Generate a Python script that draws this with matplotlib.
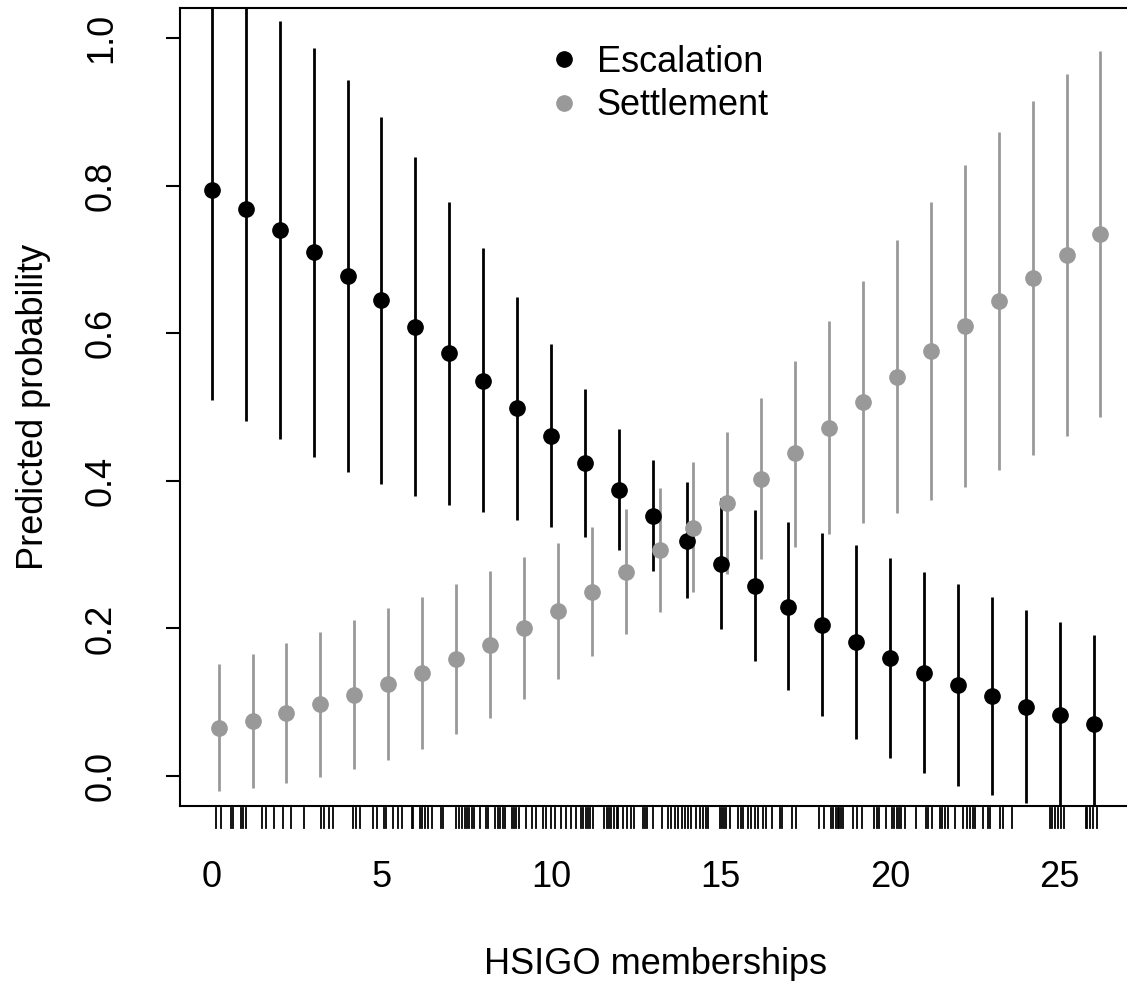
import matplotlib
matplotlib.use("Agg")
import matplotlib.pyplot as plt
import matplotlib.transforms as mtransforms
import numpy as np

plt.rcParams['font.family'] = ['Liberation Sans', 'DejaVu Sans']

# HSIGO memberships
members = list(range(27))

# escalation: estimate and 95% interval
esc_est = [0.794, 0.768, 0.740, 0.710, 0.678, 0.645, 0.609, 0.573, 0.535, 0.499,
           0.461, 0.424, 0.388, 0.352, 0.318, 0.287, 0.258, 0.229, 0.204, 0.181,
           0.160, 0.140, 0.123, 0.108, 0.094, 0.082, 0.071]
esc_lo = [0.509, 0.481, 0.457, 0.432, 0.412, 0.396, 0.379, 0.367, 0.358, 0.347,
          0.337, 0.324, 0.306, 0.278, 0.241, 0.199, 0.156, 0.117, 0.081, 0.050,
          0.025, 0.004, -0.013, -0.026, -0.036, -0.044, -0.049]
esc_hi = [1.079, 1.055, 1.023, 0.987, 0.943, 0.893, 0.839, 0.778, 0.715, 0.649,
          0.585, 0.524, 0.470, 0.428, 0.398, 0.377, 0.360, 0.344, 0.329, 0.313,
          0.295, 0.276, 0.260, 0.243, 0.225, 0.208, 0.191]

# settlement: estimate and 95% interval
set_est = [0.065, 0.074, 0.085, 0.097, 0.110, 0.124, 0.140, 0.158, 0.178, 0.200,
           0.224, 0.249, 0.277, 0.306, 0.336, 0.370, 0.402, 0.437, 0.472, 0.507,
           0.541, 0.576, 0.610, 0.644, 0.675, 0.706, 0.734]
set_lo = [-0.020, -0.016, -0.009, -0.002, 0.009, 0.021, 0.037, 0.057, 0.079, 0.104,
          0.132, 0.162, 0.192, 0.222, 0.249, 0.274, 0.294, 0.310, 0.328, 0.343,
          0.356, 0.374, 0.392, 0.415, 0.435, 0.461, 0.486]
set_hi = [0.152, 0.165, 0.180, 0.195, 0.211, 0.227, 0.243, 0.260, 0.278, 0.297,
          0.316, 0.337, 0.362, 0.390, 0.425, 0.466, 0.512, 0.563, 0.617, 0.671,
          0.726, 0.778, 0.828, 0.873, 0.915, 0.951, 0.982]

# observed values shown as rug
rug = [0.11, 0.26, 0.56, 0.61, 0.85, 0.92, 1.02, 1.48, 1.59, 1.84, 2.09, 2.33, 2.72,
       3.23, 3.30, 3.45, 3.57, 4.17, 4.25, 4.36, 4.76, 4.86, 5.08, 5.13, 5.35, 5.49,
       5.61, 5.89, 5.93, 6.13, 6.19, 6.28, 6.38, 6.48, 6.77, 6.82, 7.21, 7.29, 7.36,
       7.46, 7.53, 7.59, 7.66, 7.72, 7.90, 8.08, 8.15, 8.34, 8.44, 8.49, 8.57, 8.64,
       8.84, 8.90, 8.98, 9.06, 9.26, 9.43, 9.57, 9.77, 9.85, 10.01, 10.11, 10.29,
       10.44, 10.60, 10.73, 10.87, 10.95, 11.03, 11.09, 11.16, 11.24, 11.56, 11.64,
       11.71, 11.78, 11.85, 11.93, 11.98, 12.11, 12.24, 12.37, 12.45, 12.70, 12.77,
       12.83, 13.01, 13.26, 13.45, 13.55, 13.65, 13.75, 13.85, 13.94, 14.04, 14.14,
       14.27, 14.39, 14.48, 14.56, 14.63, 14.98, 15.04, 15.11, 15.17, 15.27, 15.52,
       15.59, 15.66, 15.81, 15.91, 16.01, 16.11, 16.25, 16.35, 16.50, 16.75, 16.82,
       17.09, 17.22, 17.90, 18.04, 18.24, 18.32, 18.40, 18.45, 18.49, 18.56, 18.61,
       18.91, 19.01, 19.17, 19.52, 19.60, 19.67, 19.89, 20.04, 20.11, 20.19, 20.26,
       20.33, 20.43, 20.75, 21.05, 21.12, 21.22, 21.46, 21.54, 21.61, 21.71, 21.90,
       22.15, 22.25, 22.35, 22.43, 22.49, 22.74, 22.89, 22.94, 23.23, 23.33, 23.59,
       24.71, 24.78, 24.85, 24.95, 25.05, 25.12, 25.77, 25.80, 25.88, 25.98, 26.11]

SHIFT = 0.2  # settlement drawn slightly to the right
GREY = "#999999"
FS = 26

fig = plt.figure(figsize=(11.27, 9.81), dpi=100)
ax = fig.add_axes([180 / 1127, 1 - 806 / 981, 950 / 1127, 798 / 981])

x = np.array(members, dtype=float)
ax.vlines(x, esc_lo, esc_hi, color="black", lw=2)
ax.vlines(x + SHIFT, set_lo, set_hi, color=GREY, lw=2)
ax.plot(x, esc_est, "o", color="black", ms=11, label="Escalation")
ax.plot(x + SHIFT, set_est, "o", color=GREY, ms=11, label="Settlement")

# rug below the axis
trans = mtransforms.blended_transform_factory(ax.transData, ax.transAxes)
for r in rug:
    ax.plot([r, r], [-0.002, -0.028], color="black", lw=1.3, transform=trans,
            clip_on=False)

ax.set_xlim(-0.94, 27.07)
ax.set_ylim(-0.0407, 1.0407)
ax.set_xticks([0, 5, 10, 15, 20, 25])
ax.set_yticks([0.0, 0.2, 0.4, 0.6, 0.8, 1.0])
ax.set_yticklabels(["0.0", "0.2", "0.4", "0.6", "0.8", "1.0"], rotation=90,
                   va="center")
ax.tick_params(axis="x", length=0, pad=39, labelsize=FS)
ax.tick_params(axis="y", length=10, width=1.5, pad=34, labelsize=FS)
for s in ax.spines.values():
    s.set_linewidth(1.5)

ax.set_xlabel("HSIGO memberships", fontsize=FS, labelpad=37)
ax.set_ylabel("Predicted probability", fontsize=FS, labelpad=24)

ax.legend(loc="center left", bbox_to_anchor=((546 - 180) / 950, (806 - 84) / 798),
          frameon=False, fontsize=FS, handlelength=1.0, handletextpad=0.4,
          borderpad=0, borderaxespad=0, labelspacing=0.23, numpoints=1)

fig.savefig("out.png", dpi=100)
